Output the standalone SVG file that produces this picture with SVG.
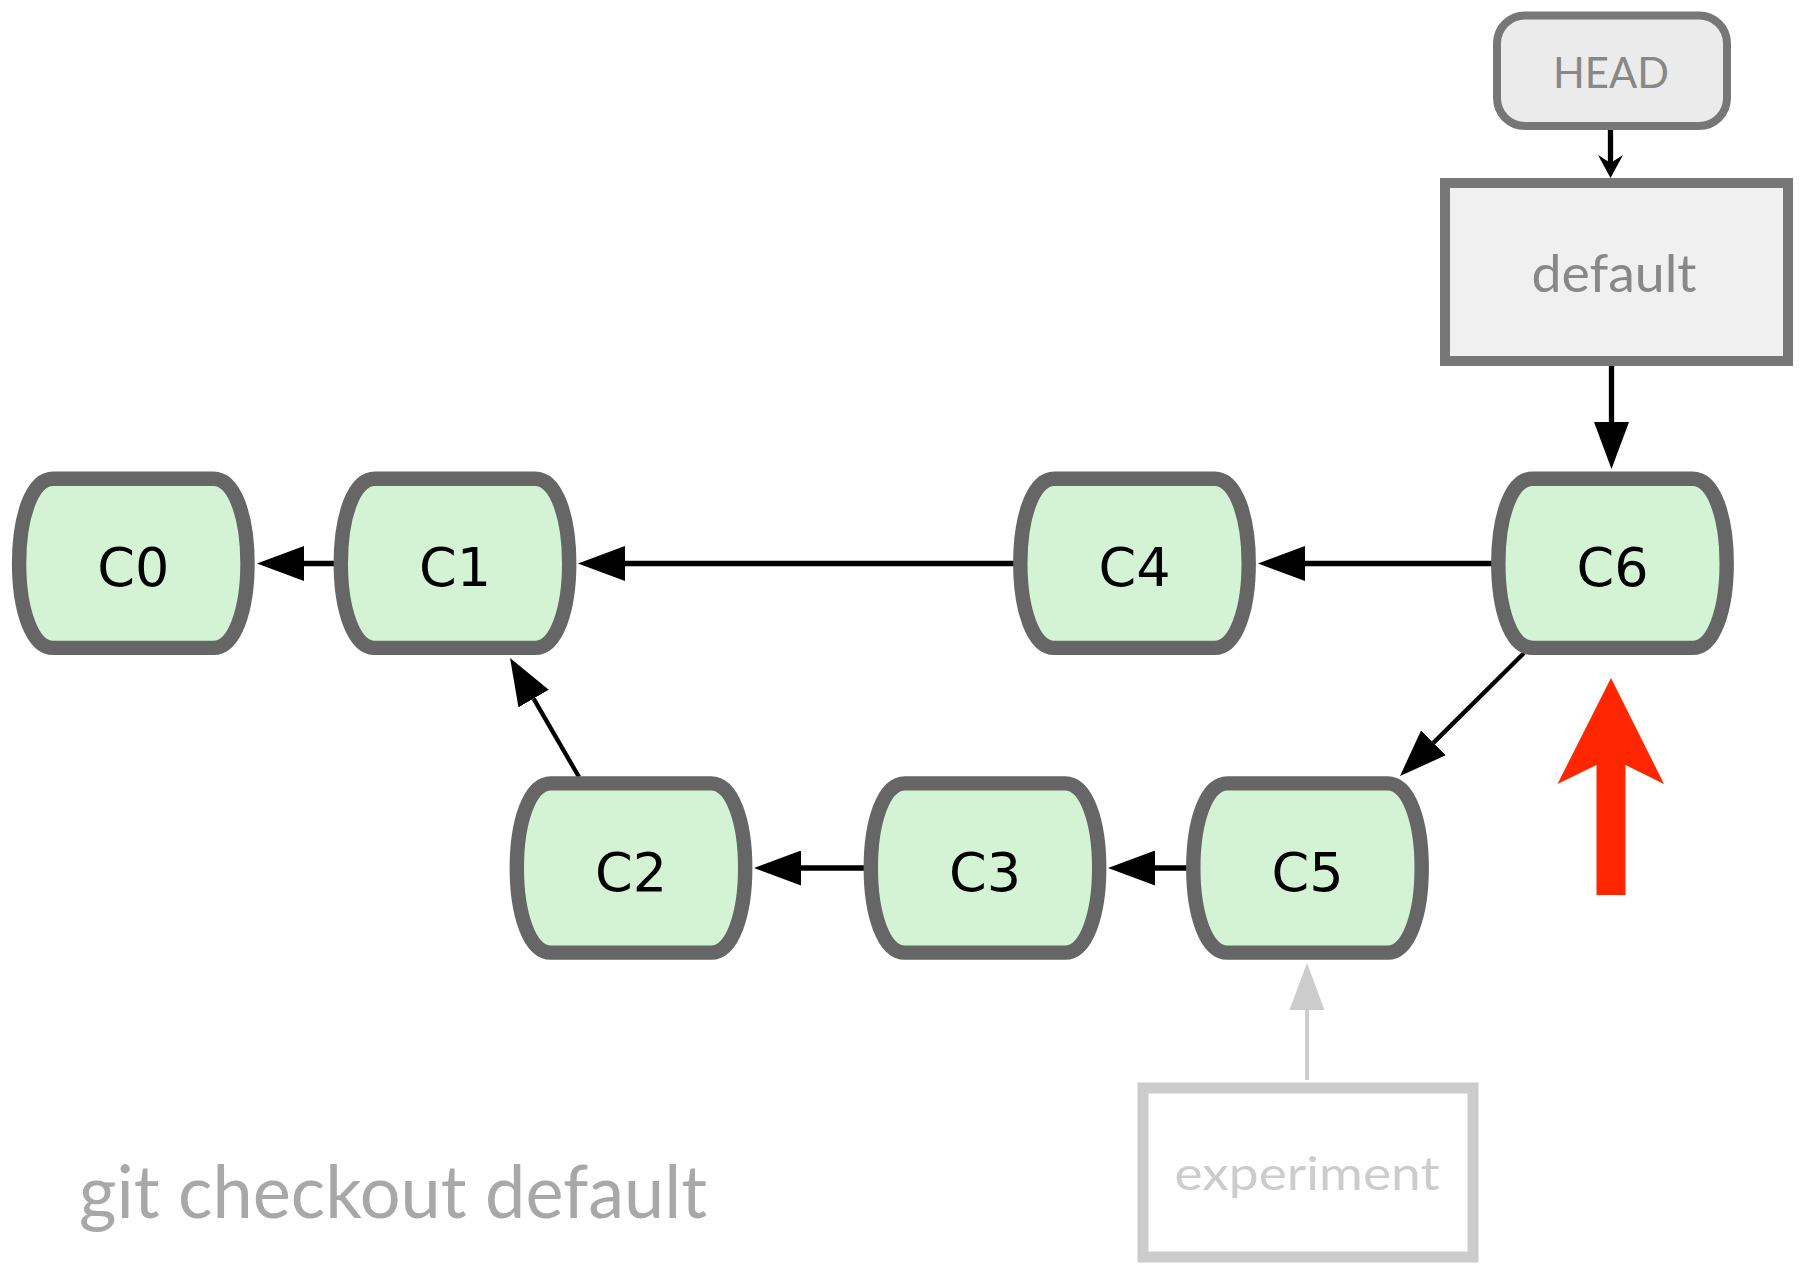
<svg xmlns="http://www.w3.org/2000/svg" xmlns:xlink="http://www.w3.org/1999/xlink" width="1806" height="1264" viewBox="0 0 1806 1264">
<style>
.commit{fill:#d4f3d5;stroke:#666;stroke-width:14.4}
.clabel{font-family:"DejaVu Sans",sans-serif;font-size:54px;fill:#000;text-anchor:middle}
.edge{stroke:#000;stroke-width:5.3;fill:none}
.thin{stroke:#000;stroke-width:4.3;fill:none}
.gray{stroke:#cccccc;stroke-width:4;fill:none}
.ref{font-family:Lato,"Open Sans",sans-serif;text-anchor:middle}
</style>
<defs>
<path id="node" d="M-80,-84.6 H80 C102,-84.6 114.2,-45 114.2,0 C114.2,45 102,84.6 80,84.6 H-80 C-102,84.6 -114.2,45 -114.2,0 C-114.2,-45 -102,-84.6 -80,-84.6 Z"/>
<marker id="ah" markerUnits="userSpaceOnUse" markerWidth="47" markerHeight="35" refX="0" refY="17.5" orient="auto" viewBox="0 0 47 35"><path d="M0,0 L47,17.5 L0,35 Z" fill="#000"/></marker>
<marker id="ahg" markerUnits="userSpaceOnUse" markerWidth="47" markerHeight="35" refX="0" refY="17.5" orient="auto" viewBox="0 0 47 35"><path d="M0,0 L47,17.5 L0,35 Z" fill="#cccccc"/></marker>
<marker id="ahs" markerUnits="userSpaceOnUse" markerWidth="23" markerHeight="25" refX="8" refY="12.5" orient="auto" viewBox="0 0 23 25"><path d="M0,0 L23,12.5 L0,25 L8,12.5 Z" fill="#000"/></marker>
</defs>
<rect width="1806" height="1264" fill="#fff"/>
<g id="connectors">
<line class="edge" x1="337" y1="563.5" x2="304" y2="563.5" marker-end="url(#ah)"/>
<line class="edge" x1="1016" y1="563.5" x2="625" y2="563.5" marker-end="url(#ah)"/>
<line class="edge" x1="1494" y1="563.5" x2="1305" y2="563.5" marker-end="url(#ah)"/>
<line class="edge" x1="866" y1="868" x2="801" y2="868" marker-end="url(#ah)"/>
<line class="edge" x1="1189" y1="868" x2="1155" y2="868" marker-end="url(#ah)"/>
<line class="thin" x1="579" y1="777" x2="533.6" y2="698.6" marker-end="url(#ah)"/>
<line class="thin" x1="1524" y1="653" x2="1433.4" y2="742.9" marker-end="url(#ah)"/>
<line class="edge" x1="1611.5" y1="366" x2="1611.5" y2="422" marker-end="url(#ah)"/>
<line class="edge" x1="1610.5" y1="130" x2="1610.5" y2="163" marker-end="url(#ahs)"/>
<line class="gray" x1="1307" y1="1080" x2="1307" y2="1010" marker-end="url(#ahg)"/>
</g>
<g id="C0"><use xlink:href="#node" href="#node" class="commit" transform="translate(133.3,563.3)"/><text class="clabel" x="133.3" y="586">C0</text></g>
<g id="C1"><use xlink:href="#node" href="#node" class="commit" transform="translate(455,563.3)"/><text class="clabel" x="455" y="586">C1</text></g>
<g id="C4"><use xlink:href="#node" href="#node" class="commit" transform="translate(1134.5,563.3)"/><text class="clabel" x="1134.5" y="586">C4</text></g>
<g id="C6"><use xlink:href="#node" href="#node" class="commit" transform="translate(1612.5,563.3)"/><text class="clabel" x="1612.5" y="586">C6</text></g>
<g id="C2"><use xlink:href="#node" href="#node" class="commit" transform="translate(631,868)"/><text class="clabel" x="631" y="891">C2</text></g>
<g id="C3"><use xlink:href="#node" href="#node" class="commit" transform="translate(985,868)"/><text class="clabel" x="985" y="891">C3</text></g>
<g id="C5"><use xlink:href="#node" href="#node" class="commit" transform="translate(1307.5,868)"/><text class="clabel" x="1307.5" y="891">C5</text></g>
<g id="HEAD"><rect x="1497" y="15.5" width="230" height="110.5" rx="28" fill="#ebebeb" stroke="#777" stroke-width="8"/><text class="ref" x="1611" y="88" font-size="42" fill="#888" textLength="116" lengthAdjust="spacingAndGlyphs">HEAD</text></g>
<g id="default"><rect x="1445" y="183" width="343" height="178" fill="#f0f0f0" stroke="#777" stroke-width="10"/><text class="ref" x="1614" y="292" font-size="52" fill="#888" textLength="165" lengthAdjust="spacingAndGlyphs">default</text></g>
<g id="experiment"><rect x="1143" y="1088" width="330" height="169" fill="#fff" stroke="#cccccc" stroke-width="11"/><text class="ref" x="1307" y="1190" font-size="46" fill="#cccccc" textLength="265" lengthAdjust="spacingAndGlyphs">experiment</text></g>
<g id="pointer"><polygon points="1611,678 1664,784 1625.5,765 1625.5,895 1596.5,895 1596.5,765 1557.5,784" fill="#ff2600"/></g>
<g id="caption"><text class="ref" x="393" y="1218" font-size="74" fill="#a8a8a8" textLength="628" lengthAdjust="spacingAndGlyphs">git checkout default</text></g>
</svg>
